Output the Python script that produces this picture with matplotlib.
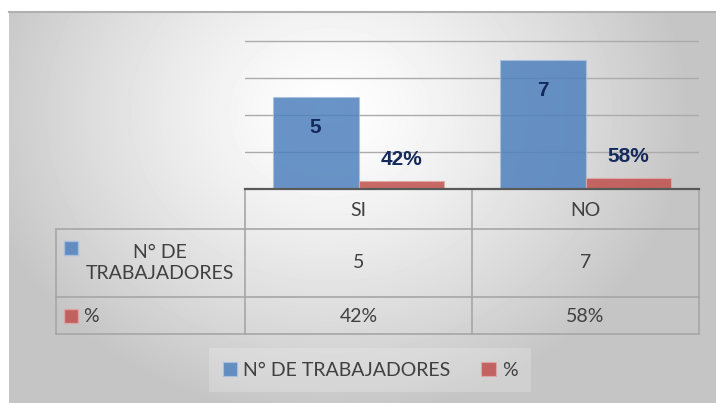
import numpy as np
import matplotlib.pyplot as plt

plt.rcParams['font.family'] = ['Lato', 'Liberation Sans', 'DejaVu Sans']

# data
categories = ['SI', 'NO']
series_names = ['N° DE TRABAJADORES', '%']
trabajadores = [5, 7]
porcentaje = [0.42, 0.58]
pct_labels = ['42%', '58%']

blue = '#4F81BD'
red = '#C0504D'
navy = '#14295C'
txt = '#404040'
line_c = '#a6a6a6'

W, H = 716, 403
fig = plt.figure(figsize=(W / 100, H / 100), dpi=100)
fig.patch.set_facecolor('white')

# radial gradient background of the chart area
bg = fig.add_axes([9 / W, 0, 707 / W, 391 / H], zorder=0)
yy, xx = np.mgrid[0:391, 0:707]
d = np.hypot(xx - 320, (yy - 100) / 0.85)
shade = 1 - 0.23 * np.clip(d / 360, 0, 1) ** 1.3
bg.imshow(shade, cmap='gray', vmin=0, vmax=1, aspect='auto', interpolation='bilinear')
bg.set_xticks([])
bg.set_yticks([])
for s in ['left', 'right', 'bottom']:
    bg.spines[s].set_visible(False)
bg.spines['top'].set_color('#b0b0b0')
bg.spines['top'].set_linewidth(1.5)

# bar axes
ymax = 8.2
px_per_unit = 18.5
ax_h = ymax * px_per_unit
ax = fig.add_axes([245 / W, 1 - 189 / H, 454 / W, ax_h / H], zorder=2)
ax.patch.set_alpha(0)

x = np.arange(len(categories))
w = 0.377
b1 = ax.bar(x - w / 2, trabajadores, w, color=blue, alpha=0.85,
            edgecolor='#a9c1e0', linewidth=0.8, zorder=3, label=series_names[0])
b2 = ax.bar(x + w / 2, porcentaje, w, color=red, alpha=0.85,
            edgecolor='#e0a9a8', linewidth=0.8, zorder=3, label=series_names[1])

lbl = dict(textcoords='offset points', ha='center', va='center', fontsize=15,
           fontweight='bold', color=navy, zorder=5,
           family=['Liberation Sans Narrow', 'Liberation Sans', 'DejaVu Sans'])
for rect, v in zip(b1, trabajadores):
    ax.annotate(str(v), (rect.get_x() + rect.get_width() / 2, v), xytext=(0, -22), **lbl)
for rect, v, lab in zip(b2, porcentaje, pct_labels):
    ax.annotate(lab, (rect.get_x() + rect.get_width() / 2, v), xytext=(0, 16), **lbl)

ax.set_xlim(-0.5, len(categories) - 0.5)
ax.set_ylim(0, ymax)
ax.set_yticks([2, 4, 6, 8])
ax.yaxis.grid(True, color='#ababab', linewidth=1.0)
ax.set_axisbelow(True)
ax.tick_params(length=0, labelleft=False, labelbottom=False)
for s in ['left', 'right', 'top']:
    ax.spines[s].set_visible(False)
ax.spines['bottom'].set_color('#595959')
ax.spines['bottom'].set_linewidth(1.6)
ax.spines['bottom'].set_zorder(4)

# data table below the axis (y in pixel rows, x shares the category scale)
left_x = -0.5 - (245 - 56) / 227
tab = fig.add_axes([56 / W, 1 - 334 / H, 643 / W, 145 / H], zorder=1)
tab.set_xlim(left_x, len(categories) - 0.5)
tab.set_ylim(334, 189)
tab.axis('off')

lk = dict(color=line_c, linewidth=1.2, clip_on=False)
for yv in [229, 297, 333.5]:
    tab.plot([left_x, len(categories) - 0.5], [yv, yv], **lk)
tab.plot([left_x, left_x], [229, 333.5], **lk)
for xv in np.arange(len(categories) + 1) - 0.5:
    tab.plot([xv, xv], [190, 333.5], **lk)

fs = 14
for i, cat in enumerate(categories):
    tab.text(i, 210, cat, ha='center', va='center', fontsize=fs, color=txt)
    tab.text(i, 263, str(trabajadores[i]), ha='center', va='center', fontsize=fs, color=txt)
    tab.text(i, 316, pct_labels[i], ha='center', va='center', fontsize=fs, color=txt)

mk_x = left_x + (71 - 56) / 227
tab.plot([mk_x], [248], marker='s', markersize=10, color=blue, alpha=0.85,
         markeredgecolor='#a9c1e0', clip_on=False)
tab.plot([mk_x], [316], marker='s', markersize=10, color=red, alpha=0.85,
         markeredgecolor='#e0a9a8', clip_on=False)
tab.text(left_x + (160 - 56) / 227, 263, series_names[0].replace(' DE ', ' DE\n'),
         ha='center', va='center', fontsize=fs, color=txt, linespacing=1.25)
tab.text(left_x + (83 - 56) / 227, 316, series_names[1], ha='left', va='center',
         fontsize=fs, color=txt)

# legend
leg = fig.legend(handles=[b1, b2], loc='center', bbox_to_anchor=(370 / W, 1 - 370 / H),
                 ncol=2, fontsize=fs, frameon=True, fancybox=False, handlelength=0.75,
                 handleheight=0.75, handletextpad=0.3, columnspacing=1.6, borderpad=0.7)
leg.get_frame().set_facecolor('white')
leg.get_frame().set_alpha(0.2)
leg.get_frame().set_edgecolor('none')
for t in leg.get_texts():
    t.set_color(txt)

fig.savefig('out.png', dpi=100)
